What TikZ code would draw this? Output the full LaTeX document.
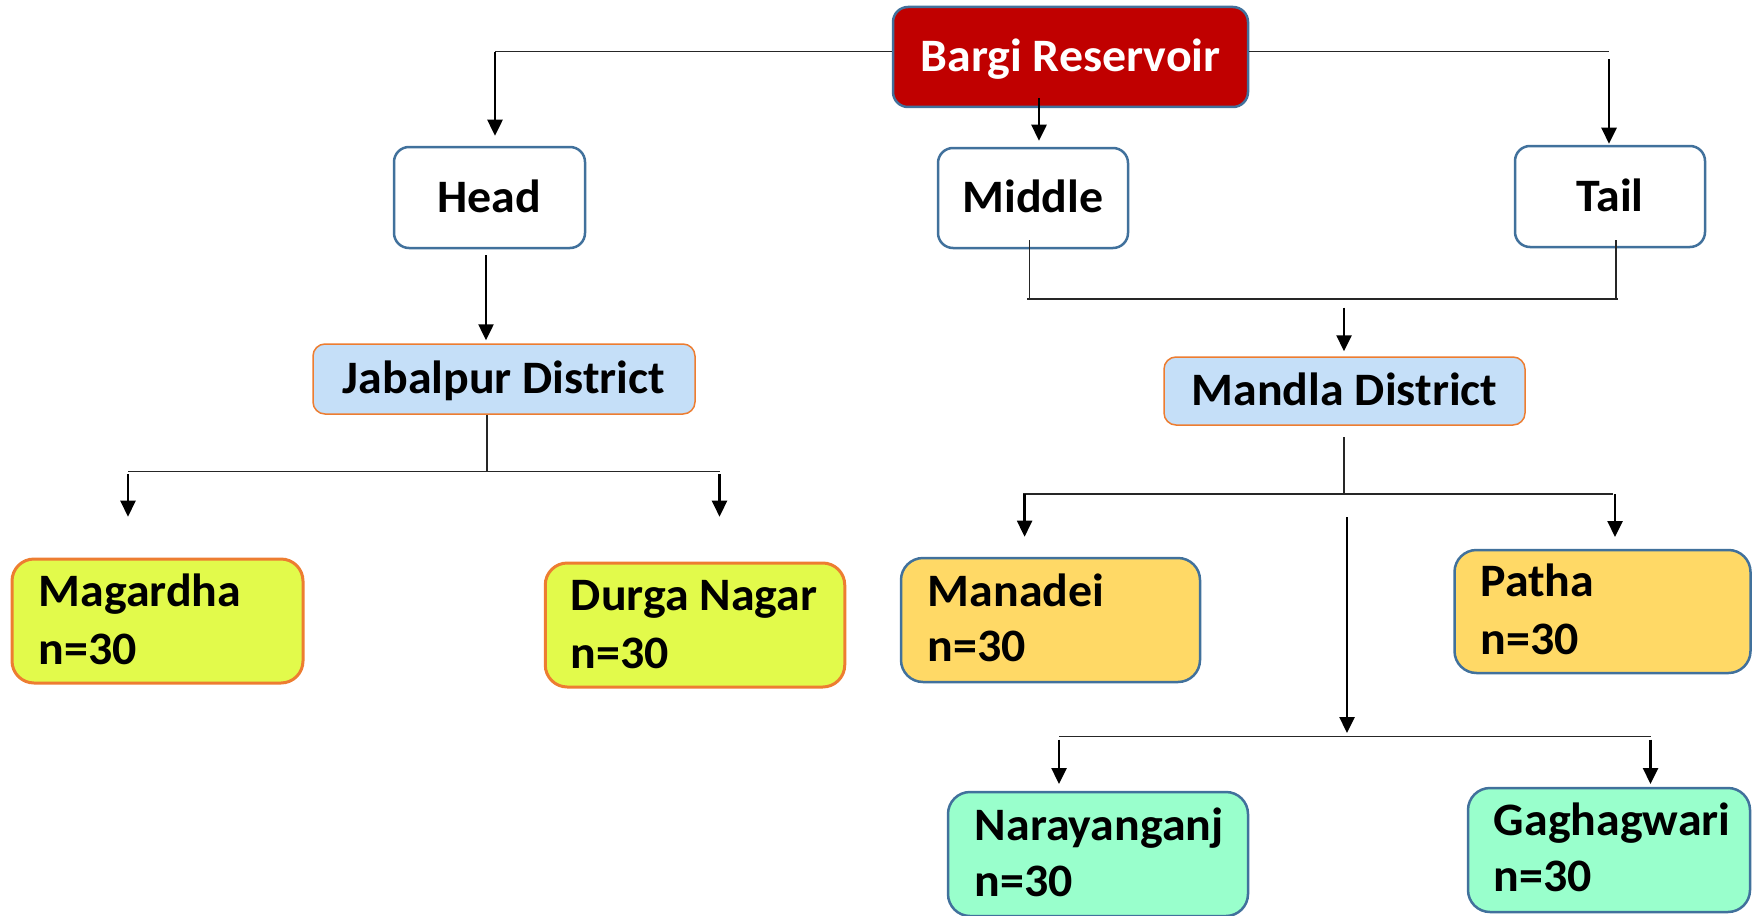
\documentclass[tikz,border=0pt]{standalone}
\usepackage{fontspec}
\setmainfont{Carlito}[FakeStretch=1.03]
\usetikzlibrary{arrows.meta,calc}
\definecolor{bordblue}{HTML}{41719C}
\definecolor{bordorange}{HTML}{ED7D31}
\definecolor{darkred}{HTML}{C00000}
\definecolor{paleblue}{HTML}{C5DFF8}
\definecolor{limey}{HTML}{E2FA4B}
\definecolor{golden}{HTML}{FFD966}
\definecolor{mint}{HTML}{99FFCC}
\newcommand\diagfont{\fontsize{46.5}{56}\selectfont\bfseries}
\begin{document}
\begin{tikzpicture}[x=1pt,y=-1pt,
  box/.style={draw=bordblue, line width=2.5pt, rounded corners=15pt, font=\diagfont,
    text height=29.4pt, text depth=0pt, inner sep=0pt, fill=white},
  district/.style={box, draw=bordorange, line width=1.5pt, rounded corners=12pt, fill=paleblue},
  leaf/.style={draw=bordblue, line width=2.5pt, rounded corners=22pt, inner sep=0pt, minimum height=124pt},
  leafo/.style={leaf, draw=bordorange, line width=3pt, fill=limey},
  leaftext/.style={anchor=base west, font=\diagfont, inner sep=0pt},
  link/.style={line width=1.5pt, draw=black!85},
  arrowlink/.style={line width=2.5pt, draw=black, -{Triangle[width=15pt,length=16pt]}}
]
\useasboundingbox (0,0) rectangle (1752,915);

% top level nodes
\node[box, fill=darkred, text=white, minimum width=355pt, minimum height=100pt] (bargi) at (1070.5,57) {Bargi Reservoir};
\node[box, minimum width=191pt, minimum height=101pt] (head) at (489.5,197.5) {Head};
\node[box, minimum width=190pt, minimum height=100pt] (middle) at (1033,198) {Middle};
\node[box, minimum width=190pt, minimum height=101pt] (tail) at (1610,196.5) {Tail};

% districts
\node[district, minimum width=382pt, minimum height=70pt] (jab) at (504,379) {Jabalpur District};
\node[district, minimum width=361pt, minimum height=68pt] (mandla) at (1344.5,391) {Mandla District};

% villages
\node[leafo, minimum width=291pt] (mag) at (157.5,621) {};
\node[leafo, minimum width=299.5pt] (durga) at (695,625) {};
\node[leaf, fill=golden, minimum width=299pt] (manadei) at (1050.5,620) {};
\node[leaf, fill=golden, minimum width=296pt, minimum height=123pt] (patha) at (1602.5,611.5) {};
\node[leaf, fill=mint, minimum width=300pt] (nara) at (1098,854) {};
\node[leaf, fill=mint, minimum width=282pt] (gagh) at (1609,850) {};

\node[leaftext] (magA) at ($(mag.north west)+(28,49)$) {Magardha};
\node[leaftext] (magB) at ($(mag.north west)+(28,107)$) {n=30};
\node[leaftext] (durgaA) at ($(durga.north west)+(27,49)$) {Durga Nagar};
\node[leaftext] (durgaB) at ($(durga.north west)+(27,107)$) {n=30};
\node[leaftext] (manadeiA) at ($(manadei.north west)+(28,49.5)$) {Manadei};
\node[leaftext] (manadeiB) at ($(manadei.north west)+(28,105)$) {n=30};
\node[leaftext] (pathaA) at ($(patha.north west)+(27,48)$) {Patha};
\node[leaftext] (pathaB) at ($(patha.north west)+(27,106)$) {n=30};
\node[leaftext] (naraA) at ($(nara.north west)+(28,50)$) {Narayanganj};
\node[leaftext] (naraB) at ($(nara.north west)+(28,106)$) {n=30};
\node[leaftext] (gaghA) at ($(gagh.north west)+(27,49)$) {Gaghagwari};
\node[leaftext] (gaghB) at ($(gagh.north west)+(27,105)$) {n=30};

% Bargi -> Head / Middle / Tail
\coordinate (hc) at (495,51.7);
\coordinate (tc) at (1609,51.7);
\draw[link] (bargi.west |- hc) -- (hc);
\draw[arrowlink, shorten >=10pt] (hc) -- (hc |- head.north);
\draw[link] (bargi.east |- tc) -- (tc);
\draw[arrowlink, shorten >=1pt] ($(tc)+(0,7.6)$) -- (tc |- tail.north);
\coordinate (bm) at (1039,98);
\draw[arrowlink, shorten >=6pt] (bm) -- (bm |- middle.north);

% Head -> Jabalpur
\coordinate (hj) at (486,255);
\draw[arrowlink, shorten >=3pt] (hj) -- (hj |- jab.north);

% Jabalpur -> villages
\coordinate (jl) at (128,471.7);
\coordinate (jr) at (719.5,471.7);
\coordinate (jlt) at (128,516.7);
\coordinate (jrt) at (719.5,516.7);
\coordinate (jc) at (487,471.7);
\draw[link] (jc |- jab.south) -- (jc);
\draw[link] (jl) -- (jr);
\draw[arrowlink] ($(jl)+(0,2.5)$) -- (jlt);
\draw[arrowlink] ($(jr)+(0,2.5)$) -- (jrt);

% Middle, Tail -> Mandla
\coordinate (ml) at (1029.6,299);
\coordinate (mr) at (1616,299);
\draw[link] (1029.6,240) -- (ml);
\draw[link] (1616,240) -- (mr);
\draw[link] (1027,299) -- (1617.5,299);
\coordinate (mt) at (1344,307.7);
\draw[arrowlink, shorten >=5pt] (mt) -- (mt |- mandla.north);

% Mandla -> villages
\coordinate (dl) at (1023,494);
\coordinate (dr) at (1613,494);
\coordinate (dc) at (1344,494);
\draw[link] ($(dc |- mandla.south)+(0,11.7)$) -- (dc);
\draw[link] (dl) -- (dr);
\coordinate (dlt) at (1024.6,536.7);
\coordinate (drt) at (1615,537);
\draw[arrowlink] (dlt |- dl) -- (dlt);
\draw[arrowlink] (drt |- dr) -- (drt);

\coordinate (el) at (1059,736.7);
\coordinate (er) at (1650.5,736.7);
\coordinate (es) at (1347,517);
\coordinate (et) at (1347,733);
\coordinate (elt) at (1059,784);
\coordinate (ert) at (1650.5,784);
\draw[arrowlink] (es) -- (et);
\draw[link] (el) -- (er);
\draw[arrowlink] ($(el)+(0,3)$) -- (elt);
\draw[arrowlink] ($(er)+(0,3)$) -- (ert);
\end{tikzpicture}
\end{document}
